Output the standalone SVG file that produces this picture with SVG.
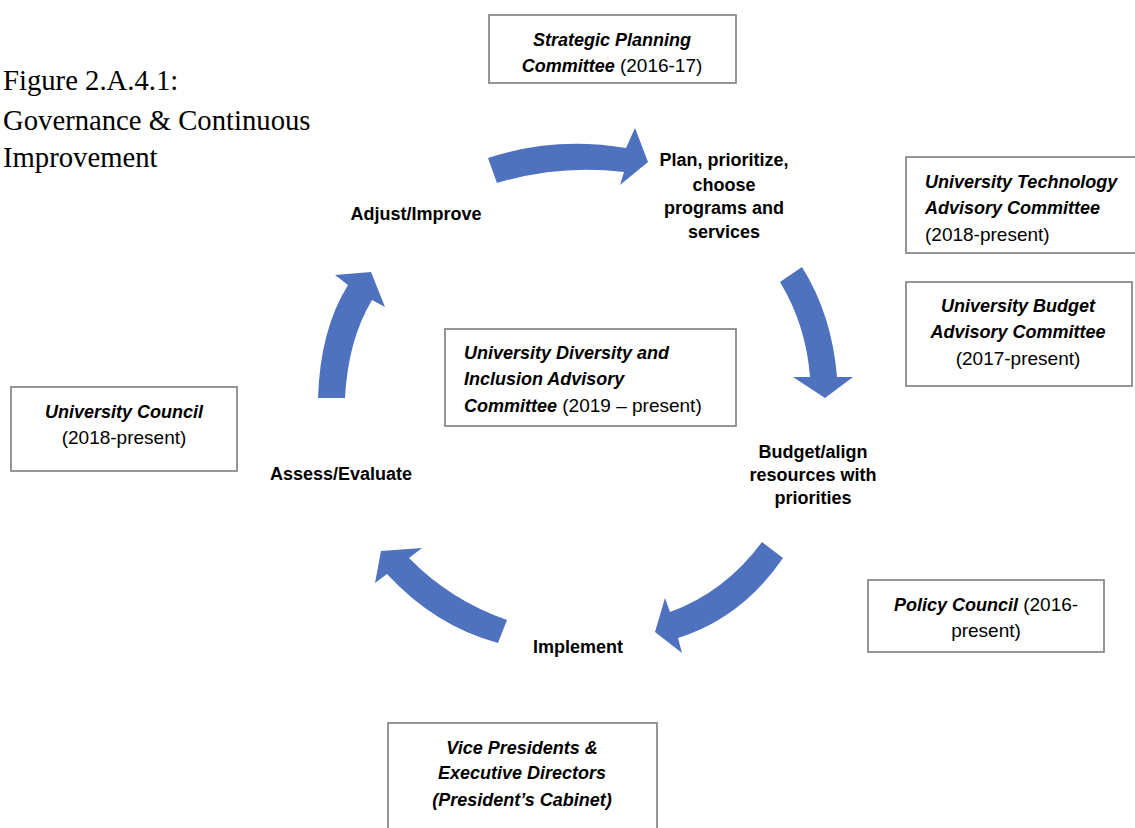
<svg xmlns="http://www.w3.org/2000/svg" width="1135" height="828" viewBox="0 0 1135 828">
<style>
.box{fill:#fff;stroke:#8a8a8a;stroke-width:1.8}
.t{font-family:"Liberation Sans",Arial,sans-serif;font-size:19px;fill:#000}
.b{font-weight:bold;font-size:18px}
.bi{font-weight:bold;font-style:italic;font-size:18px}
.c{text-anchor:middle}
.title{font-family:"Liberation Serif","Times New Roman",serif;font-size:28.7px;fill:#000}
.arr{fill:#4F72BE}
</style>
<rect width="1135" height="828" fill="#fff"/>
<g id="title">
<text class="title" x="3" y="90">Figure 2.A.4.1:</text>
<text class="title" x="3" y="130">Governance &amp; Continuous</text>
<text class="title" x="3" y="167">Improvement</text>
</g>
<g id="connectors">
<path class="arr" d="M488,158 Q555,136 626,148 L635,128 L648,162 L620,185 L624,172 Q560,164 497,183 Z"/>
<path class="arr" d="M802,267 Q832,315 837,377 L853,377 L825,398 L793,377 L810,377 Q806,325 780,282 Z"/>
<path class="arr" d="M762,542 Q725,592 670,612 L665,598 L655,632 L682,653 L678,638 Q742,618 783,558 Z"/>
<path class="arr" d="M507,620 Q450,600 409,558 L422,548 L381,551 L375,583 L387,574 Q435,626 498,643 Z"/>
<path class="arr" d="M318,398 Q320,330 348,285 L335,275 L371,272 L385,307 L372,300 Q348,340 345,398 Z"/>
</g>
<g id="plan">
<text class="t b c" x="724" y="166">Plan, prioritize,</text>
<text class="t b c" x="724" y="191">choose</text>
<text class="t b c" x="724" y="214">programs and</text>
<text class="t b c" x="724" y="238">services</text>
</g>
<g id="budget">
<text class="t b c" x="813" y="458">Budget/align</text>
<text class="t b c" x="813" y="481">resources with</text>
<text class="t b c" x="813" y="504">priorities</text>
</g>
<g id="implement">
<text class="t b c" x="578" y="653">Implement</text>
</g>
<g id="assess">
<text class="t b c" x="341" y="480">Assess/Evaluate</text>
</g>
<g id="adjust">
<text class="t b c" x="416" y="220">Adjust/Improve</text>
</g>
<g id="strategic">
<rect class="box" x="489" y="15" width="247" height="68"/>
<text class="t c" x="612" y="46"><tspan class="bi">Strategic Planning</tspan></text>
<text class="t c" x="612" y="72"><tspan class="bi">Committee</tspan> (2016-17)</text>
</g>
<g id="tech">
<rect class="box" x="906" y="157" width="240" height="96"/>
<text class="t bi" x="925" y="188">University Technology</text>
<text class="t bi" x="925" y="214">Advisory Committee</text>
<text class="t" x="925" y="241">(2018-present)</text>
</g>
<g id="budgetcomm">
<rect class="box" x="906" y="282" width="226" height="104"/>
<text class="t bi c" x="1018" y="312">University Budget</text>
<text class="t bi c" x="1018" y="338">Advisory Committee</text>
<text class="t c" x="1018" y="365">(2017-present)</text>
</g>
<g id="diversity">
<rect class="box" x="445" y="329" width="291" height="97"/>
<text class="t bi" x="464" y="359">University Diversity and</text>
<text class="t bi" x="464" y="385">Inclusion Advisory</text>
<text class="t" x="464" y="412"><tspan class="bi">Committee</tspan> (2019 – present)</text>
</g>
<g id="council">
<rect class="box" x="11" y="387" width="226" height="84"/>
<text class="t bi c" x="124" y="418">University Council</text>
<text class="t c" x="124" y="444">(2018-present)</text>
</g>
<g id="policy">
<rect class="box" x="868" y="580" width="236" height="72"/>
<text class="t c" x="986" y="611"><tspan class="bi">Policy Council</tspan> (2016-</text>
<text class="t c" x="986" y="637">present)</text>
</g>
<g id="cabinet">
<rect class="box" x="388" y="723" width="269" height="120"/>
<text class="t bi c" x="522" y="754">Vice Presidents &amp;</text>
<text class="t bi c" x="522" y="779">Executive Directors</text>
<text class="t bi c" x="522" y="806">(President’s Cabinet)</text>
</g>
</svg>
